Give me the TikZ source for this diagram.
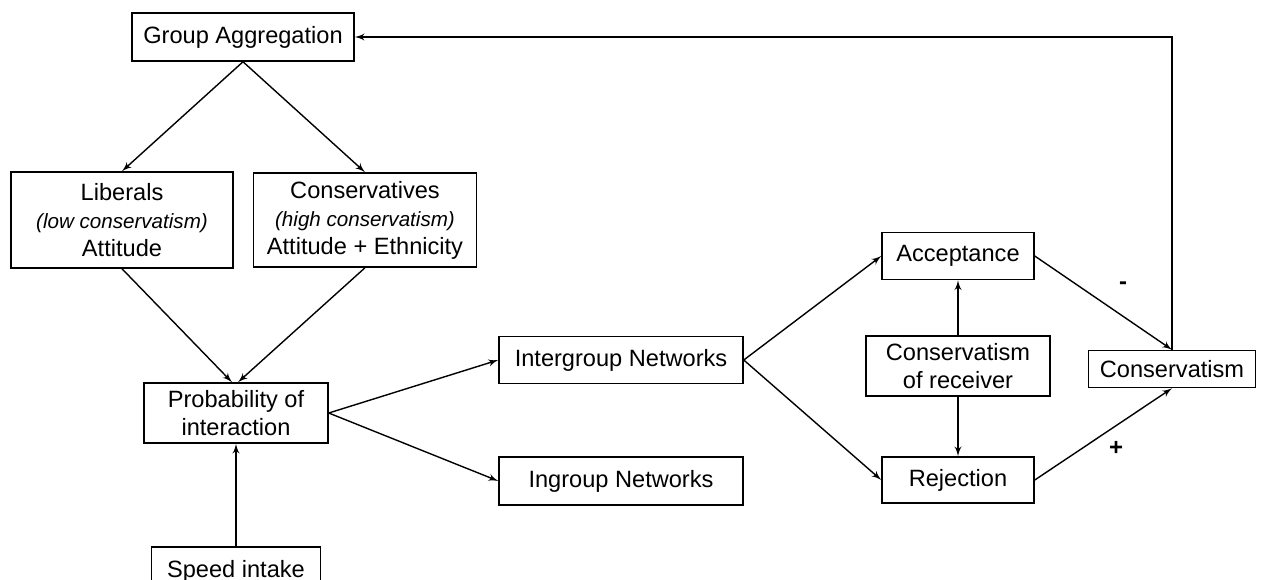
\documentclass[tikz,border=0pt]{standalone}
\usepackage{fontspec}
\setmainfont{Liberation Sans}
\usepackage{tikz}
\usetikzlibrary{shapes, arrows}
\tikzstyle{block} = [ rectangle, draw, line width=0.75pt, align=center, inner sep=0pt, font=\fontsize{11.8}{14}\selectfont ]
\tikzstyle{line} = [ draw, line width=0.7pt, -latex' ]
\tikzstyle{sign} = [ font=\bfseries\fontsize{12}{14}\selectfont ]
\newcommand{\smallnote}[1]{{\fontsize{10.3}{14}\selectfont\itshape #1}}

\begin{document}
\begin{tikzpicture}[x=0.5pt, y=-0.5pt, auto]
\useasboundingbox (0,0) rectangle (1262,579);

% Boxes, placed at pixel positions
\node [block, minimum width=111pt, minimum height=24pt] (aggregation) at (243,37) {Group Aggregation};
\node [block, minimum width=111pt, minimum height=48pt] (liberals) at (122,220) {Liberals\\\smallnote{(low conservatism)}\\Attitude};
\node [block, minimum width=111.5pt, minimum height=47pt] (conservatives) at (365,220) {Conservatives\\\smallnote{(high conservatism)}\\Attitude + Ethnicity};
\node [block, minimum width=92pt, minimum height=30pt] (interaction) at (236,413) {Probability of\\interaction};
\node [block, minimum width=84.5pt, minimum height=24pt] (speed) at (236,571) {Speed intake};
\node [block, minimum width=122pt, minimum height=23.5pt] (intergroup) at (621,360) {Intergroup Networks};
\node [block, minimum width=122pt, minimum height=24pt] (ingroup) at (621,481) {Ingroup Networks};
\node [block, minimum width=76pt, minimum height=23.5pt] (acceptance) at (958,256) {Acceptance};
\node [block, minimum width=92pt, minimum height=30pt] (receiver) at (958,366) {Conservatism\\of receiver};
\node [block, minimum width=76pt, minimum height=23pt] (rejection) at (958,480) {Rejection};
\node [block, minimum width=83.5pt, minimum height=18.5pt] (conservatism) at (1172,369) {Conservatism};
\node [sign] (minus) at (1123,286) {-};
\node [sign] (plus) at (1116,448) {+};

\path [line] (aggregation.south) -- (liberals.north);
\path [line] (aggregation.south) -- (conservatives.north);
\path [line] (liberals.south) -- ([xshift=-2pt]interaction.north);
\path [line] (conservatives.south) -- ([xshift=1pt]interaction.north);
\path [line] (speed.north) -- (interaction.south);
\path [line] (interaction.east) -- (intergroup.west);
\path [line] (interaction.east) -- (ingroup.west);
\path [line] (intergroup.east) -- (acceptance.west);
\path [line] (intergroup.east) -- (rejection.west);
\path [line] (receiver.north) -- (acceptance.south);
\path [line] (receiver.south) -- (rejection.north);
\path [line] (acceptance.east) -- (conservatism.north);
\path [line] (rejection.east) -- (conservatism.south);
\path [line] (conservatism.north) |- (aggregation.east);
\end{tikzpicture}
\end{document}
